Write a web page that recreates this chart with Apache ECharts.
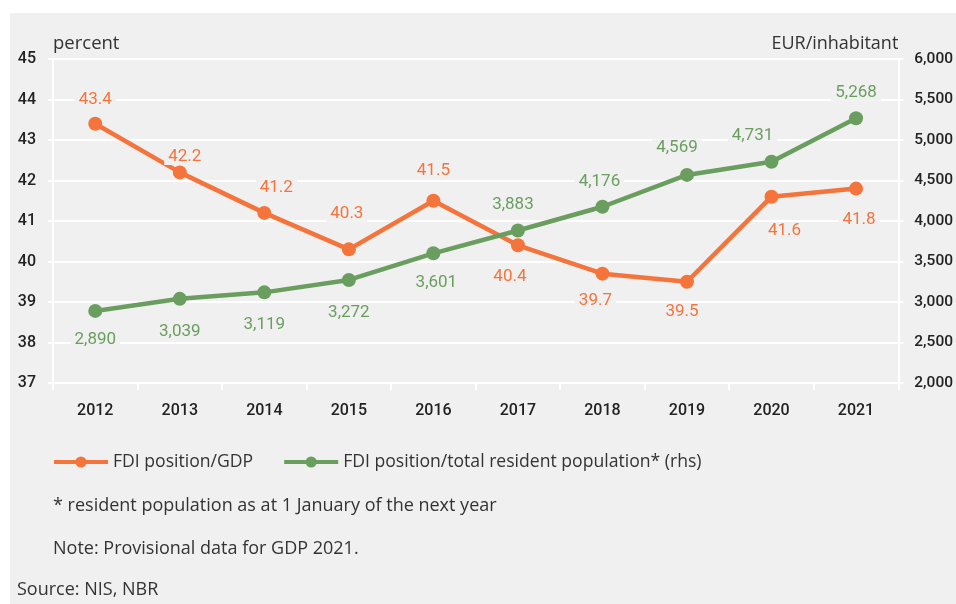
<!DOCTYPE html>
<html><head><meta charset="utf-8">
<script src="https://cdn.jsdelivr.net/npm/echarts@6/dist/echarts.min.js"></script>
<style>html,body{margin:0;padding:0;background:#fff}#c{width:956px;height:604px}</style>
</head><body><div id="c"></div>
<script>
var years = ['2012','2013','2014','2015','2016','2017','2018','2019','2020','2021'];
var fdiGdp = [43.4, 42.2, 41.2, 40.3, 41.5, 40.4, 39.7, 39.5, 41.6, 41.8];
var fdiPop = [2890, 3039, 3119, 3272, 3601, 3883, 4176, 4569, 4731, 5268];
var leftTicks = [37, 45, 1];
var rightTicks = [2000, 6000, 500];

// label placement (style only), pixel offsets from each point
var orangeLabelDx = [0, 5, 12, -2, 0, -8, -7, -5, 13, 3];
var orangeLabelDy = [-24, -16, -25, -36, -30, 31, 27, 30, 34, 31];
var greenLabelDx = [0, 0, 0, 0, 3, -5, -3, -10, -19, 0];
var greenLabelDy = [29, 33, 32, 33, 29, -26, -25, -27, -26, -26];

var ORANGE = '#f4743b', GREEN = '#6a9e5f', BG = '#f0f0f0';
var NUMF = "Roboto, sans-serif";
var BODY = "'Open Sans', 'Noto Sans', sans-serif";

function fmt(v){ return Number(v).toLocaleString('en-US'); }

function items(vals, dxs, dys, color, formatter){
  return vals.map(function(v,i){
    return { value: v, label: { show: true, position: 'inside', offset: [dxs[i], dys[i]],
      color: color, fontFamily: NUMF, fontSize: 17, backgroundColor: BG, padding: [0,4],
      formatter: formatter } };
  });
}

var chart = echarts.init(document.getElementById('c'));
chart.setOption({
  backgroundColor: '#fff',
  animation: false,
  graphic: [
    { type: 'rect', left: 10, top: 13, shape: { width: 946, height: 591 }, style: { fill: BG }, z: -10 },
    { type: 'text', left: 53, top: 497, style: { text: '* resident population as at 1 January of the next year', fill: '#333', font: "18px " + BODY } },
    { type: 'text', left: 53, top: 540, style: { text: 'Note: Provisional data for GDP 2021.', fill: '#333', font: "18px " + BODY } },
    { type: 'text', left: 17, top: 581, style: { text: 'Source: NIS, NBR', fill: '#333', font: "18px " + BODY } }
  ],
  grid: { left: 53, right: 56, top: 59, bottom: 221 },
  legend: {
    left: 52, top: 453, itemWidth: 54, itemHeight: 14, itemGap: 29, padding: 0,
    lineStyle: { width: 4 },
    textStyle: { fontFamily: BODY, fontSize: 17.6, color: '#333' },
    data: ['FDI position/GDP', 'FDI position/total resident population* (rhs)']
  },
  xAxis: {
    type: 'category', data: years, boundaryGap: true,
    axisLine: { lineStyle: { color: '#fff', width: 2 } },
    axisTick: { show: true, length: 7, lineStyle: { color: '#fff', width: 2 } },
    axisLabel: { color: '#222', fontFamily: NUMF, fontWeight: 500, fontSize: 16, margin: 20 }
  },
  yAxis: [
    { type: 'value', min: leftTicks[0], max: leftTicks[1], interval: leftTicks[2],
      name: 'percent', nameLocation: 'end', nameGap: 6,
      nameTextStyle: { align: 'left', fontFamily: BODY, fontSize: 18.5, color: '#333' },
      axisLine: { show: true, lineStyle: { color: '#fff', width: 2 } },
      axisTick: { show: true, length: 5, lineStyle: { color: '#fff', width: 2 } },
      splitLine: { show: true, lineStyle: { color: '#fff', width: 2 } },
      axisLabel: { color: '#222', fontFamily: NUMF, fontWeight: 500, fontSize: 16, margin: 17 } },
    { type: 'value', min: rightTicks[0], max: rightTicks[1], interval: rightTicks[2], position: 'right',
      name: 'EUR/inhabitant', nameLocation: 'end', nameGap: 6,
      nameTextStyle: { align: 'right', fontFamily: BODY, fontSize: 18, color: '#333' },
      axisLine: { show: true, lineStyle: { color: '#fff', width: 2 } },
      axisTick: { show: true, length: 5, lineStyle: { color: '#fff', width: 2 } },
      splitLine: { show: false },
      axisLabel: { color: '#222', fontFamily: NUMF, fontWeight: 500, fontSize: 15.5, margin: 16, formatter: fmt } }
  ],
  series: [
    { name: 'FDI position/GDP', type: 'line', yAxisIndex: 0,
      data: items(fdiGdp, orangeLabelDx, orangeLabelDy, ORANGE, function(p){ return p.value.toFixed(1); }),
      symbol: 'circle', symbolSize: 14, lineStyle: { color: ORANGE, width: 4.5 },
      itemStyle: { color: ORANGE }, z: 3 },
    { name: 'FDI position/total resident population* (rhs)', type: 'line', yAxisIndex: 1,
      data: items(fdiPop, greenLabelDx, greenLabelDy, GREEN, function(p){ return fmt(p.value); }),
      symbol: 'circle', symbolSize: 14, lineStyle: { color: GREEN, width: 4.5 },
      itemStyle: { color: GREEN }, z: 3 }
  ]
});
</script></body></html>
